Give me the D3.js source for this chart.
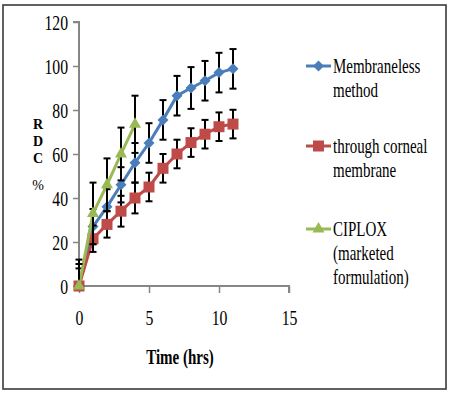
<!DOCTYPE html>
<html>
<head>
<meta charset="utf-8">
<script src="https://cdn.jsdelivr.net/npm/d3@7"></script>
<style>
  body { margin: 0; background: #fff; }
  svg text { font-family: "Liberation Serif", "Times New Roman", serif !important; }
</style>
</head>
<body>
<svg id="chart" width="454" height="396" font-family="Liberation Serif"></svg>
<script>
// Time points (hrs)
const hours = [0, 1, 2, 3, 4, 5, 6, 7, 8, 9, 10, 11];
const ciploxHours = [0, 1, 2, 3, 4];

// % release values and error (sd)
const membraneless = [0, 27, 36, 46, 56, 65, 75.5, 86.5, 90, 93.3, 97, 98.7];
const membranelessErr = [12, 8, 8, 8, 9, 9, 9, 9, 9.5, 9, 9, 9];
const corneal = [0, 21.5, 28, 34, 40, 45, 53.5, 60, 65.2, 69, 72.4, 73.6];
const cornealErr = [8, 6, 6, 7, 7, 6.5, 6.5, 6.5, 6.5, 6.5, 6.5, 6.5];
const ciplox = [0, 33, 46, 60, 73.5];
const ciploxErr = [10, 14, 12, 12, 13];

const xTicks = [0, 5, 10, 15];
const yTicks = [0, 20, 40, 60, 80, 100, 120];

const seriesNames = [
  ["Membraneless", "method"],
  ["through corneal", "membrane"],
  ["CIPLOX", "(marketed", "formulation)"]
];

const SX = 0.75; // text is squeezed horizontally in the original

const svg = d3.select("#chart");

// outer frame
svg.append("rect")
  .attr("x", 3).attr("y", 5)
  .attr("width", 443).attr("height", 384)
  .attr("fill", "#fff")
  .attr("stroke", "#3a3a3a")
  .attr("stroke-width", 1.6);

const x = d3.scaleLinear().domain([0, 15]).range([79, 289]);
const y = d3.scaleLinear().domain([0, 120]).range([286, 22]);

// y axis
const yAxis = svg.append("g")
  .attr("transform", "translate(79,0)")
  .call(d3.axisLeft(y).tickValues(yTicks).tickSize(6).tickPadding(5));

// x axis
const xAxis = svg.append("g")
  .attr("transform", "translate(0,286)")
  .call(d3.axisBottom(x).tickValues(xTicks).tickSize(7));

[yAxis, xAxis].forEach(g => {
  g.attr("font-family", "Liberation Serif");
  g.select(".domain").attr("stroke", "#868686").attr("stroke-width", 2);
  g.selectAll(".tick line").attr("stroke", "#868686").attr("stroke-width", 1.5);
  g.selectAll(".tick text")
    .attr("fill", "#000")
    .style("font-size", "21px");
});
yAxis.selectAll(".tick text")
  .attr("x", -11 / SX)
  .attr("dy", "0.34em")
  .attr("transform", `scale(${SX},1)`);
xAxis.selectAll(".tick text")
  .attr("y", 39)
  .attr("dy", 0)
  .attr("transform", `scale(${SX},1)`);

yAxis.select(".domain").attr("d", `M-6,${y(120)}H0V${y(0)}`);
xAxis.select(".domain").attr("d", `M${x(0)},0H${x(15)}V7`);

// helper for squeezed text
function sText(parent, tx, ty, str, size, weight, anchor) {
  return parent.append("text")
    .attr("transform", `translate(${tx},${ty}) scale(${SX},1)`)
    .attr("text-anchor", anchor || "start")
    .style("font-size", size + "px")
    .style("font-weight", weight || "normal")
    .text(str);
}

// axis titles
sText(svg, 180, 364, "Time (hrs)", 20, "bold", "middle");

// stacked y title letters
const yTitle = [["R", 129, "bold"], ["D", 146, "bold"], ["C", 163, "bold"], ["%", 190, "normal"]];
yTitle.forEach(d => sText(svg, 38, d[1], d[0], 14, d[2], "middle")
  .attr("transform", `translate(38,${d[1]})`));

// marker shapes
const diamond = r => `M0,${-r}L${r},0L0,${r}L${-r},0Z`;
const square = s => `M${-s / 2},${-s / 2}h${s}v${s}h${-s}Z`;
const triangle = s => `M0,${-s * 0.58}L${s / 2},${s * 0.29}L${-s / 2},${s * 0.29}Z`;

const series = [
  { xs: hours, ys: membraneless, err: membranelessErr, color: "#4a7ebb", marker: diamond(5.5) },
  { xs: hours, ys: corneal, err: cornealErr, color: "#be4b48", marker: square(11) },
  { xs: ciploxHours, ys: ciplox, err: ciploxErr, color: "#98b954", marker: triangle(12) }
];

svg.append("clipPath").attr("id", "plotclip")
  .append("rect").attr("x", 60).attr("y", 0).attr("width", 240).attr("height", 286);

const line = d3.line().x(d => x(d[0])).y(d => y(d[1]));

series.forEach(s => {
  const pts = s.xs.map((v, i) => [v, s.ys[i], s.err[i]]);
  const g = svg.append("g");
  g.append("path")
    .datum(pts)
    .attr("d", line)
    .attr("fill", "none")
    .attr("stroke", s.color)
    .attr("stroke-width", 3);

  const eb = g.append("g").attr("clip-path", "url(#plotclip)")
    .selectAll("g").data(pts).join("g")
    .attr("stroke", "#000").attr("stroke-width", 2);
  eb.append("line")
    .attr("x1", d => x(d[0])).attr("x2", d => x(d[0]))
    .attr("y1", d => y(d[1] - d[2])).attr("y2", d => y(d[1] + d[2]));
  eb.append("line")
    .attr("x1", d => x(d[0]) - 3.5).attr("x2", d => x(d[0]) + 3.5)
    .attr("y1", d => y(d[1] + d[2])).attr("y2", d => y(d[1] + d[2]));
  eb.append("line")
    .attr("x1", d => x(d[0]) - 3.5).attr("x2", d => x(d[0]) + 3.5)
    .attr("y1", d => y(d[1] - d[2])).attr("y2", d => y(d[1] - d[2]));

  g.selectAll(".m").data(pts).join("path")
    .attr("transform", d => `translate(${x(d[0])},${y(d[1])})`)
    .attr("d", s.marker)
    .attr("fill", s.color);
});

// legend
const legendY = [66, 146, 229];
const leg = svg.append("g").selectAll("g")
  .data(series)
  .join("g")
  .attr("transform", (d, i) => `translate(306,${legendY[i]})`);
leg.append("line")
  .attr("x1", 0).attr("x2", 25)
  .attr("stroke", d => d.color).attr("stroke-width", 3);
leg.append("path")
  .attr("transform", "translate(12.5,0)")
  .attr("d", d => d.marker)
  .attr("fill", d => d.color);
leg.each(function (d, i) {
  const g = d3.select(this);
  seriesNames[i].forEach((t, j) => sText(g, 27, 7 + j * 24, t, 20));
});
</script>
</body>
</html>
